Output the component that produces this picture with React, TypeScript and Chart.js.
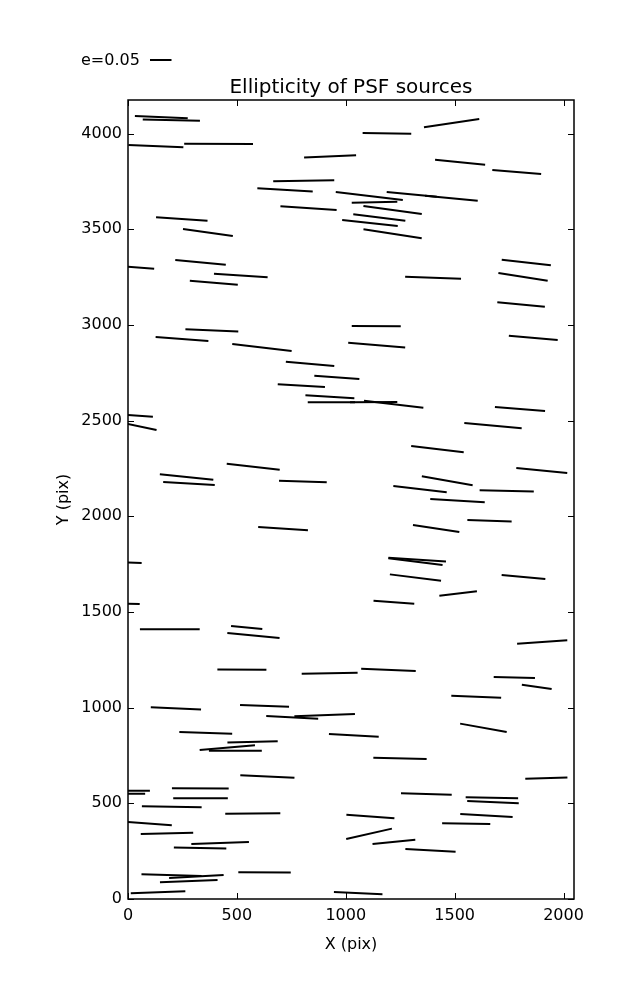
import React, { useEffect, useRef } from 'react';
import { Chart, registerables } from 'chart.js';

Chart.register(...registerables);

// Whisker centres (pix), ellipticity and position angle (deg, counter-clockwise from +X)
const xs = [
  153, 199, 128, 416, 928, 807, 721, 1108, 1303, 1485, 1132, 829, 1215, 1154, 1111, 1215,
  247, 367, 333, 6, 518, 394, 385, 248, 615, 836, 1140, 1142, 1189, 1486, 1525, 1785,
  1829, 1814, 1401, 1805, 1861, 959, 796, 927, 934, 1128, 1220, 1800, 0, 19, 1676, 1421,
  575, 269, 280, 803, 1900, 1466, 1341, 1739, 1513, 1660, 1415, 712, 1328, 1320, 1320, 1816,
  1516, 1221, -29, -38, 192, 545, 576, 1902, 523, 926, 1196, 1774, 1877, 220, 627, 754,
  903, 1599, 357, 1037, 1632, 572, 456, 493, 1249, 640, 1921, -10, -20, 332, 333, 1370,
  1671, 1676, 201, 573, 1113, 1646, 87, 1553, 179, 1107, 423, 1221, 331, 1389, 200, 314,
  279, 138, 627, 1057,
];
const ys = [
  4086, 4071, 3935, 3947, 3881, 3754, 3706, 3674, 3683, 3663, 3642, 3611, 3601, 3562, 3533, 3477,
  3554, 3483, 3327, 3304, 3259, 3221, 2972, 2927, 2882, 2797, 2994, 2895, 4002, 4055, 3851, 3800,
  3327, 3252, 3247, 3107, 2933, 2726, 2683, 2625, 2596, 2597, 2586, 2561, 2530, 2478, 2474, 2351,
  2259, 2206, 2172, 2182, 2240, 2186, 2142, 2133, 2082, 1977, 1936, 1936, 1774, 1763, 1680, 1683,
  1597, 1551, 1761, 1544, 1410, 1419, 1377, 1343, 1199, 1180, 1198, 1158, 1109, 996, 1009, 949,
  961, 1057, 868, 855, 895, 821, 791, 775, 735, 640, 632, 566, 550, 578, 526, 549,
  529, 506, 482, 447, 431, 436, 395, 394, 343, 341, 293, 299, 266, 254, 125, 118,
  93, 35, 139, 31,
];
const ells = [
  0.123, 0.133, 0.128, 0.16, 0.121, 0.142, 0.129, 0.157, 0.117, 0.123, 0.106, 0.131, 0.137, 0.122, 0.13, 0.137,
  0.12, 0.117, 0.118, 0.116, 0.125, 0.112, 0.123, 0.123, 0.139, 0.113, 0.114, 0.133, 0.113, 0.13, 0.117, 0.114,
  0.115, 0.116, 0.13, 0.111, 0.114, 0.105, 0.11, 0.114, 0.11, 0.11, 0.139, 0.117, 0.116, 0.116, 0.134, 0.123,
  0.124, 0.125, 0.12, 0.111, 0.119, 0.12, 0.125, 0.126, 0.127, 0.103, 0.109, 0.116, 0.134, 0.127, 0.12, 0.102,
  0.088, 0.095, 0.093, 0.093, 0.139, 0.073, 0.122, 0.117, 0.114, 0.13, 0.127, 0.096, 0.07, 0.117, 0.114, 0.121,
  0.141, 0.116, 0.123, 0.116, 0.11, 0.117, 0.129, 0.123, 0.124, 0.126, 0.098, 0.112, 0.1, 0.132, 0.127, 0.118,
  0.122, 0.12, 0.139, 0.128, 0.112, 0.122, 0.116, 0.112, 0.122, 0.109, 0.134, 0.1, 0.122, 0.117, 0.14, 0.127,
  0.134, 0.127, 0.122, 0.113,
];
const angles = [
  -2.5, -1.4, -2.4, -0.3, 2.6, 0.9, -3.5, -6.8, -5.5, -5.4, 1.3, -3.8, -7.8, -7.0, -6.2, -8.8,
  -3.8, -8.0, -5.3, -4.4, -3.8, -4.8, -2.2, -4.3, -6.7, -5.1, -0.4, -4.6, -0.8, 8.5, -5.7, -4.7,
  -6.5, -8.9, -2.1, -5.3, -5.0, -4.2, -3.3, -3.5, 0.1, 0.2, -6.7, -4.6, -4.0, -11.9, -5.3, -6.9,
  -6.5, -5.8, -3.3, -1.9, -5.6, -10.1, -6.7, -1.1, -3.5, -1.7, -8.6, -3.8, -3.6, -7.0, -7.1, -5.2,
  6.7, -4.2, -3.0, -1.5, 0, -5.5, -5.5, 3.9, -0.5, 1.0, -2.4, -1.4, -8.2, -2.7, -2.0, -3.0,
  2.2, -2.3, -1.8, -3.1, -10.1, 1.6, 4.9, 0, -1.4, -2.5, 1.9, 0, 0, -0.4, 0, -1.6,
  -1.1, -2.6, -1.0, 0.4, -4.3, -3.3, -4.3, -0.8, 1.4, 12.7, 2.0, 5.7, -1.1, -3.1, -1.6, 3.1,
  2.3, 2.1, -0.4, -2.7,
];

const xTickValues = [0, 500, 1000, 1500, 2000];
const yTickValues = [0, 500, 1000, 1500, 2000, 2500, 3000, 3500, 4000];
const X_MAX = 2048;
const Y_MAX = 4176;
const KEY_E = 0.05;
const TITLE = 'Ellipticity of PSF sources';
const X_LABEL = 'X (pix)';
const Y_LABEL = 'Y (pix)';

// style constants
const E_SCALE = 430; // whisker length in px per unit ellipticity
const FONT = "'DejaVu Sans', 'Liberation Sans', sans-serif";

const framePlugin = {
  id: 'frame',
  afterDatasetsDraw(chart: any) {
    const { ctx, chartArea: a, scales } = chart;
    const x = scales.x;
    const y = scales.y;
    ctx.save();
    ctx.strokeStyle = '#000';
    ctx.lineWidth = 1;
    ctx.beginPath();
    for (const t of x.ticks) {
      const px = Math.round(x.getPixelForValue(t.value)) + 0.5;
      ctx.moveTo(px, a.bottom);
      ctx.lineTo(px, a.bottom - 6);
      ctx.moveTo(px, a.top);
      ctx.lineTo(px, a.top + 6);
    }
    for (const t of y.ticks) {
      const py = Math.round(y.getPixelForValue(t.value)) + 0.5;
      ctx.moveTo(a.left, py);
      ctx.lineTo(a.left + 6, py);
      ctx.moveTo(a.right, py);
      ctx.lineTo(a.right - 6, py);
    }
    ctx.stroke();
    ctx.lineWidth = 1.5;
    ctx.strokeRect(a.left, a.top, a.right - a.left, a.bottom - a.top);

    ctx.fillStyle = '#000';
    ctx.font = `20px ${FONT}`;
    ctx.textAlign = 'center';
    ctx.textBaseline = 'alphabetic';
    ctx.fillText(TITLE, (a.left + a.right) / 2, a.top - 6.7);

    ctx.font = `16px ${FONT}`;
    ctx.textAlign = 'left';
    ctx.fillText(`e=${KEY_E}`, 81, 65);
    ctx.lineWidth = 2;
    ctx.beginPath();
    ctx.moveTo(150, 60);
    ctx.lineTo(150 + KEY_E * E_SCALE, 60);
    ctx.stroke();
    ctx.restore();
  },
};

export default function App() {
  const ref = useRef<HTMLCanvasElement | null>(null);

  useEffect(() => {
    document.body.style.margin = '0';
    const canvas = ref.current;
    if (!canvas) return;
    const points = xs.map((x, i) => ({ x, y: ys[i] }));
    const chart = new Chart(canvas, {
      type: 'scatter',
      data: {
        datasets: [
          {
            label: 'whiskers',
            data: points,
            pointStyle: 'line',
            pointRadius: ells.map((e) => (e * E_SCALE) / 2),
            pointHoverRadius: ells.map((e) => (e * E_SCALE) / 2),
            pointRotation: angles.map((a) => -a),
            pointBorderColor: '#000',
            pointBackgroundColor: '#000',
            pointBorderWidth: 2,
            pointHoverBorderWidth: 2,
            clip: 0,
          } as any,
        ],
      },
      options: {
        responsive: false,
        animation: false,
        devicePixelRatio: 1,
        events: [],
        layout: { padding: { left: 0, right: 63, top: 100, bottom: 0 } },
        plugins: {
          legend: { display: false },
          title: { display: false },
          tooltip: { enabled: false },
        },
        scales: {
          x: {
            type: 'linear',
            min: 0,
            max: X_MAX,
            grid: { display: false, drawTicks: false, tickLength: 0 },
            border: { display: false },
            afterBuildTicks: (s: any) => {
              s.ticks = xTickValues.map((v) => ({ value: v }));
            },
            afterFit: (s: any) => {
              s.height = 101;
            },
            ticks: {
              color: '#000',
              font: { family: FONT, size: 16 },
              padding: 7,
              maxRotation: 0,
              autoSkip: false,
              callback: (v: any) => String(v),
            },
            title: {
              display: true,
              text: X_LABEL,
              color: '#000',
              font: { family: FONT, size: 16 },
              padding: { top: 0, bottom: 46 },
            },
          },
          y: {
            type: 'linear',
            min: 0,
            max: Y_MAX,
            grid: { display: false, drawTicks: false, tickLength: 0 },
            border: { display: false },
            afterBuildTicks: (s: any) => {
              s.ticks = yTickValues.map((v) => ({ value: v }));
            },
            afterFit: (s: any) => {
              s.width = 128;
            },
            ticks: {
              color: '#000',
              font: { family: FONT, size: 16 },
              padding: 6,
              autoSkip: false,
              callback: (v: any) => String(v),
            },
            title: {
              display: true,
              text: Y_LABEL,
              color: '#000',
              font: { family: FONT, size: 16 },
              padding: { top: 54, bottom: 0 },
            },
          },
        },
      },
      plugins: [framePlugin],
    });
    return () => chart.destroy();
  }, []);

  return (
    <div style={{ position: 'absolute', left: 0, top: 0, width: 637, height: 1000, background: '#fff' }}>
      <canvas ref={ref} width={637} height={1000} style={{ display: 'block', width: 637, height: 1000 }} />
    </div>
  );
}
